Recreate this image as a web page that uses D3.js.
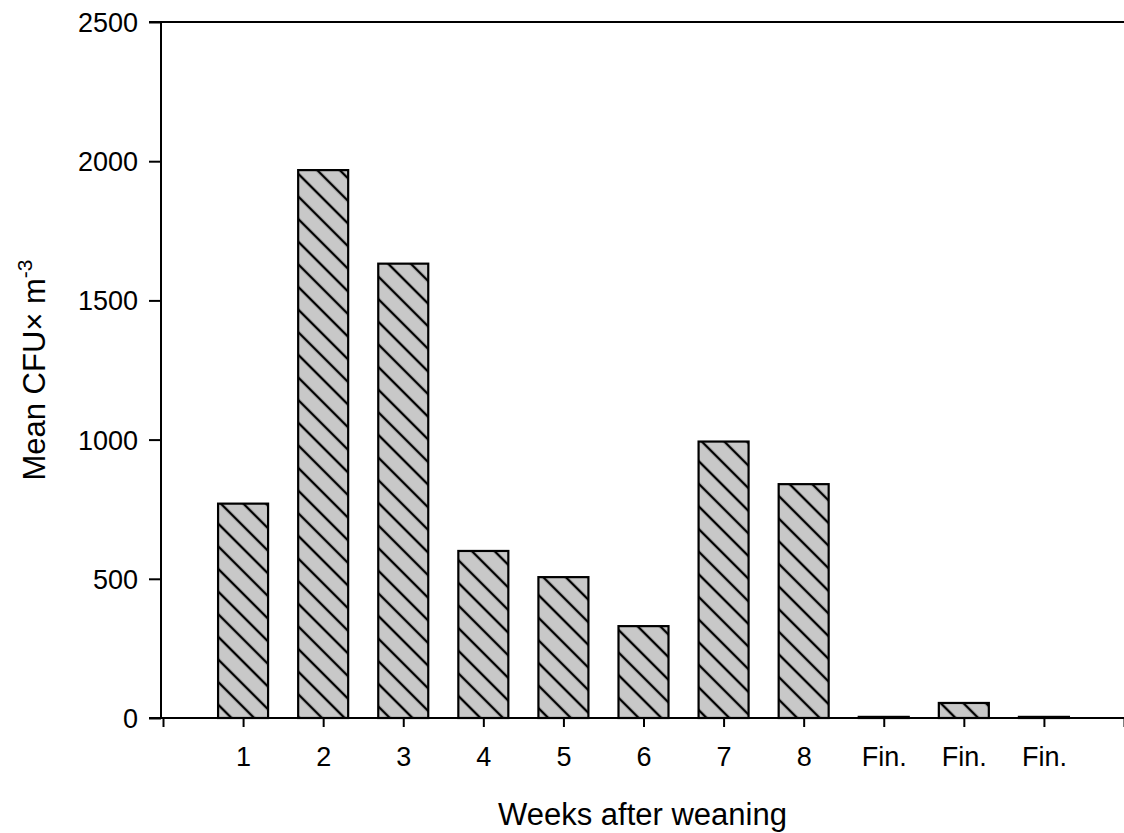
<!DOCTYPE html>
<html>
<head>
<meta charset="utf-8">
<script src="https://cdn.jsdelivr.net/npm/d3@7"></script>
<style>
	body { margin: 0; background: #fff; }
	text { font-family: Arial, "Liberation Sans", sans-serif; fill: #000; }
</style>
</head>
<body>
<svg id="chart" width="1124" height="833"></svg>
<script>
// week labels, the three "Fin." are the finishing period samples
const categories = ['1', '2', '3', '4', '5', '6', '7', '8', 'Fin.', 'Fin.', 'Fin.'];
const cfuValues = [770, 1968, 1632, 600, 506, 330, 993, 840, 4, 54, 4];
const yTicks = [0, 500, 1000, 1500, 2000, 2500];

const svg = d3.select('#chart');

const plot = {left: 161, right: 1124, top: 22, bottom: 718};

// one slot per category plus an empty slot at each end
const x = d3.scaleLinear()
	.domain([0, categories.length + 1])
	.range([163, 1124]);

const y = d3.scaleLinear()
	.domain([0, 2500])
	.range([plot.bottom, plot.top]);

// hatch fill: grey with black "\" lines
const defs = svg.append('defs');
const pattern = defs.append('pattern')
	.attr('id', 'hatch')
	.attr('patternUnits', 'userSpaceOnUse')
	.attr('width', 16)
	.attr('height', 16)
	.attr('patternTransform', 'rotate(45)');
pattern.append('rect')
	.attr('width', 16)
	.attr('height', 16)
	.attr('fill', '#c8c8c8');
pattern.append('line')
	.attr('x1', 0).attr('y1', 8)
	.attr('x2', 16).attr('y2', 8)
	.attr('stroke', '#000')
	.attr('stroke-width', 2.4);

const barWidth = 50;

svg.append('g')
	.attr('class', 'bars')
	.selectAll('rect')
	.data(cfuValues)
	.enter().append('rect')
		.attr('x', function(d, i){ return x(i + 1) - barWidth / 2 })
		.attr('y', function(d){ return y(d) })
		.attr('width', barWidth)
		.attr('height', function(d){ return y(0) - y(d) })
		.attr('fill', 'url(#hatch)')
		.attr('stroke', '#000')
		.attr('stroke-width', 2.2);

// y axis
const yAxis = d3.axisLeft(y)
	.tickValues(yTicks)
	.tickSize(12)
	.tickPadding(11)
	.tickFormat(d3.format('d'));

const yg = svg.append('g')
	.attr('transform', 'translate(' + plot.left + ',0)')
	.call(yAxis);
yg.select('.domain').remove();
yg.append('line')
	.attr('x1', 0).attr('x2', 0)
	.attr('y1', plot.top).attr('y2', plot.bottom)
	.attr('stroke', '#000').attr('stroke-width', 2);
yg.selectAll('.tick line').attr('stroke', '#000').attr('stroke-width', 2);
yg.selectAll('.tick text')
	.style('font-size', '27px')
	.attr('dy', '0.35em');

// frame line along the top
svg.append('line')
	.attr('x1', plot.left - 12).attr('x2', plot.right)
	.attr('y1', plot.top).attr('y2', plot.top)
	.attr('stroke', '#000').attr('stroke-width', 2);

// x axis
const xAxis = d3.axisBottom(x)
	.tickValues(d3.range(0, categories.length + 2))
	.tickSize(9)
	.tickPadding(20)
	.tickFormat(function(d){ return (d >= 1 && d <= categories.length) ? categories[d - 1] : '' });

const xg = svg.append('g')
	.attr('transform', 'translate(0,' + plot.bottom + ')')
	.call(xAxis);
xg.select('.domain').remove();
xg.append('line')
	.attr('x1', plot.left - 12).attr('x2', plot.right)
	.attr('y1', 0).attr('y2', 0)
	.attr('stroke', '#000').attr('stroke-width', 2);
xg.selectAll('.tick line').attr('stroke', '#000').attr('stroke-width', 2);
xg.selectAll('.tick text')
	.style('font-size', '27px');

// axis titles, centred on their axes
svg.append('text')
	.attr('x', (plot.left + plot.right) / 2)
	.attr('y', 825)
	.attr('text-anchor', 'middle')
	.style('font-size', '31px')
	.text('Weeks after weaning');

const yTitle = svg.append('text')
	.attr('transform', 'translate(45,' + (plot.top + plot.bottom) / 2 + ') rotate(-90)')
	.attr('text-anchor', 'middle')
	.style('font-size', '31px');
yTitle.append('tspan').text('Mean CFU\u00d7 m');
yTitle.append('tspan')
	.attr('dy', '-0.6em')
	.style('font-size', '21px')
	.text('-3');
</script>
</body>
</html>
